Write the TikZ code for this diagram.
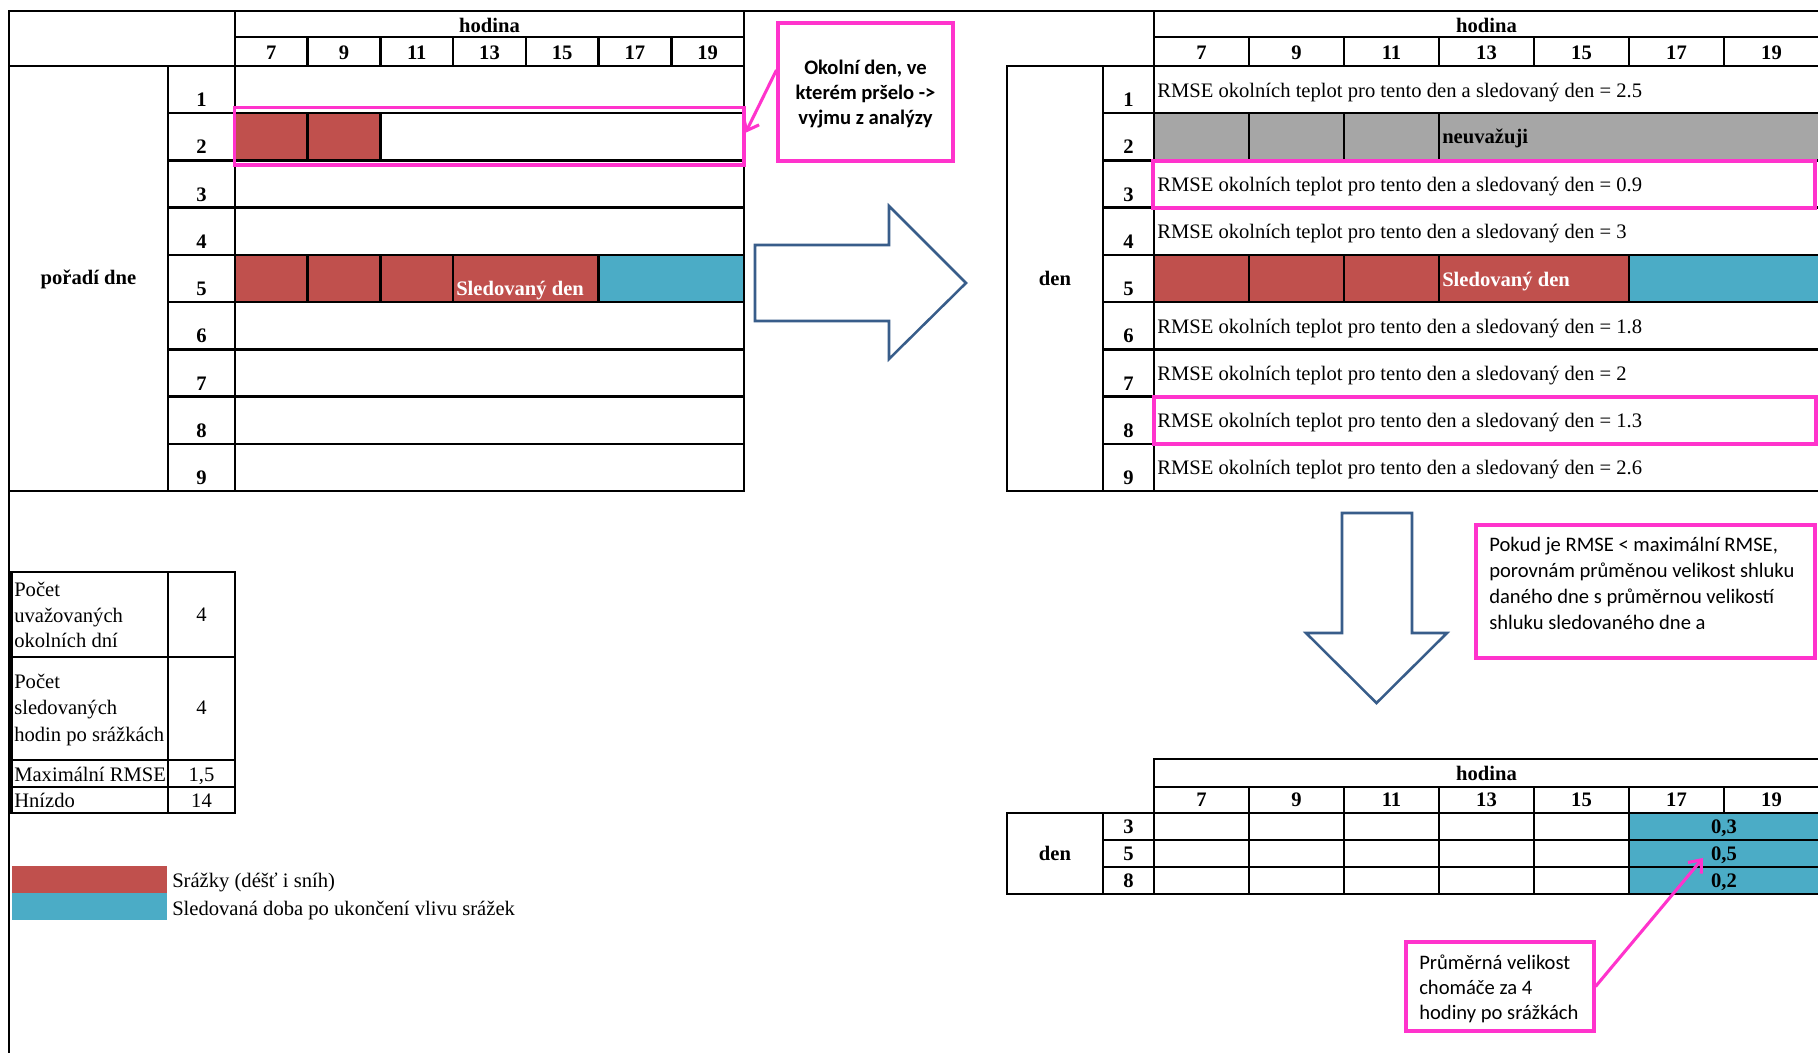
\documentclass[tikz,border=0pt]{standalone}
\usepackage{fontspec}
\setmainfont{Liberation Serif}
\newfontfamily\calfont{Carlito}
\usetikzlibrary{arrows.meta,calc,fit}
\definecolor{cred}{RGB}{192,80,77}
\definecolor{cblue}{RGB}{75,172,198}
\definecolor{cgray}{RGB}{166,166,166}
\definecolor{cmag}{RGB}{255,51,204}
\definecolor{carrow}{RGB}{56,93,138}
\newcommand\fsz{\fontsize{15.45}{18.5}\selectfont}
\begin{document}
\begin{tikzpicture}[x=0.75pt,y=-0.75pt,
  tn/.style={inner sep=0pt,font=\fsz},
  tb/.style={inner sep=0pt,font=\fsz\bfseries},
  cn/.style={inner sep=0pt,font=\calfont\fsz},
  cb/.style={inner sep=0pt,font=\calfont\fsz\bfseries},
  grid/.style={line width=1.875pt,line cap=rect},
  magframe/.style={draw=cmag,line width=2.3pt,inner sep=0pt},
  callout/.style={draw=cmag,line width=2.3pt,fill=white,inner sep=0pt},
  blockarrow/.style={draw=carrow,line width=1.9pt,line join=miter,fill=white},
  magarrow/.style={draw=cmag,line width=2.3pt,-{Straight Barb[length=8pt,width=13pt]}}
]
\useasboundingbox (0,0) rectangle (1818,1053);
\fill[white] (0,0) rectangle (1818,1053);

% ---------- fills ----------
% left table
\fill[cred] (235,113.2) rectangle (380.4,160.4);
\fill[cred] (235,254.9) rectangle (598.6,302.1);
\fill[cblue] (598.6,254.9) rectangle (744,302.1);
% right table
\fill[cgray] (1154,113.2) rectangle (1819,160.4);
\fill[cred] (1154,254.9) rectangle (1629,302.1);
\fill[cblue] (1629,254.9) rectangle (1819,302.1);
% bottom table
\fill[cblue] (1629,813) rectangle (1819,894);
% legend
\fill[cred] (11.5,866) rectangle (167,893);
\fill[cblue] (11.5,893) rectangle (167,920);

% ---------- page border ----------
\draw[grid] (9,1053) -- (9,11) -- (1818,11);

% ---------- left table ----------
\draw[grid] (235,11) -- (235,491);
\draw[grid] (744,11) -- (744,491);
\draw[grid] (235,37) -- (744,37);
\draw[grid] (9,66) -- (744,66);
\foreach \k in {1,...,6} \draw[grid] ({235+\k*72.714},37) -- ({235+\k*72.714},66);
\draw[grid] (168,66) -- (168,491);
\foreach \k in {1,...,8} \draw[grid] (168,{66+\k*47.22}) -- (744,{66+\k*47.22});
\draw[grid] (9,491) -- (744,491);
\foreach \k in {1,2} \draw[grid] ({235+\k*72.714},113.2) -- ({235+\k*72.714},160.4);
\foreach \k in {1,2,3,5} \draw[grid] ({235+\k*72.714},254.9) -- ({235+\k*72.714},302.1);

% ---------- right table ----------
\draw[grid] (1154,11) -- (1154,491);
\draw[grid] (1154,37) -- (1818,37);
\draw[grid] (1007,66) -- (1818,66);
\foreach \k in {1,...,6} \draw[grid] ({1154+\k*95},37) -- ({1154+\k*95},66);
\draw[grid] (1007,66) -- (1007,491);
\draw[grid] (1103,66) -- (1103,491);
\foreach \k in {1,...,8} \draw[grid] (1103,{66+\k*47.22}) -- (1818,{66+\k*47.22});
\draw[grid] (1007,491) -- (1818,491);
\foreach \k in {1,2,3} \draw[grid] ({1154+\k*95},113.2) -- ({1154+\k*95},160.4);
\foreach \k in {1,2,3,5} \draw[grid] ({1154+\k*95},254.9) -- ({1154+\k*95},302.1);

% ---------- bottom table ----------
\draw[grid] (1154,759) -- (1818,759);
\draw[grid] (1154,759) -- (1154,894);
\draw[grid] (1154,787) -- (1818,787);
\draw[grid] (1007,813) -- (1818,813);
\foreach \k in {1,...,6} \draw[grid] ({1154+\k*95},787) -- ({1154+\k*95},813);
\draw[grid] (1103,840) -- (1818,840);
\draw[grid] (1103,867) -- (1818,867);
\draw[grid] (1007,894) -- (1818,894);
\draw[grid] (1007,813) -- (1007,894);
\draw[grid] (1103,813) -- (1103,894);
\foreach \k in {1,...,5} \draw[grid] ({1154+\k*95},813) -- ({1154+\k*95},894);

% ---------- parameter table ----------
\draw[grid] (11.5,572) rectangle (235,813);
\draw[grid] (168,572) -- (168,813);
\foreach \y in {657,760,787} \draw[grid] (11.5,\y) -- (235,\y);

% ---------- texts: left table ----------
\node[tb,anchor=base] (lhod) at (489.5,32.7) {hodina};
\node[tb,anchor=base] (rhod) at (1486.5,32.7) {hodina};
\node[tb,anchor=base] (bhod) at (1486.5,780) {hodina};
\foreach \h [count=\k from 0] in {7,9,11,13,15,17,19} {
  \node[tb,anchor=base] (lh\h) at ({235+(\k+0.5)*72.714},59.3) {\h};
  \node[tb,anchor=base] (rh\h) at ({1154+(\k+0.5)*95},59.3) {\h};
  \node[tb,anchor=base] (bh\h) at ({1154+(\k+0.5)*95},806.7) {\h};
}
\foreach \n in {1,...,9} {
  \node[tb,anchor=base] (ln\n) at (201.5,{66+\n*47.22-6.5}) {\n};
  \node[tb,anchor=base] (rn\n) at (1128.5,{66+\n*47.22-6.5}) {\n};
}
\node[tb,anchor=base] (lpd) at (88.5,284.3) {pořadí dne};
\node[tb,anchor=base west,text=white] (lsd) at (456,295) {Sledovaný den};

% ---------- texts: right table ----------
\node[tb,anchor=base] (rden) at (1055,285) {den};
\foreach \r/\v in {1/2.5,3/0.9,4/3,6/1.8,7/2,8/1.3,9/2.6}
  \node[tn,anchor=base west] (rr\r) at (1157,{66+(\r-1)*47.22+31}) {RMSE okolních teplot pro tento den a sledovaný den = \v};
\node[tb,anchor=base west] (rneu) at (1442,143) {neuvažuji};
\node[tb,anchor=base west,text=white] (rsd) at (1442,286) {Sledovaný den};

% ---------- texts: bottom table ----------
\node[tb,anchor=base] (bden) at (1055,860.7) {den};
\node[tb,anchor=base] (bn3) at (1128.5,833.3) {3};
\node[tb,anchor=base] (bn5) at (1128.5,860.7) {5};
\node[tb,anchor=base] (bn8) at (1128.5,887.3) {8};
\node[tb,anchor=base] (bv3) at (1724,833.3) {0,3};
\node[tb,anchor=base] (bv5) at (1724,860.7) {0,5};
\node[tb,anchor=base] (bv8) at (1724,887.3) {0,2};

% ---------- texts: parameter table ----------
\node[tn,anchor=base west] (p1a) at (14,596) {Počet};
\node[tn,anchor=base west] (p1b) at (14,622) {uvažovaných};
\node[tn,anchor=base west] (p1c) at (14,647.7) {okolních dní};
\node[tn,anchor=base west] (p2a) at (14,688.7) {Počet};
\node[tn,anchor=base west] (p2b) at (14,714.7) {sledovaných};
\node[tn,anchor=base west] (p2c) at (14,741.3) {hodin po srážkách};
\node[tn,anchor=base west] (p3) at (14,781) {Maximální RMSE};
\node[tn,anchor=base west] (p4) at (14,807.7) {Hnízdo};
\node[tn,anchor=base] (pv1) at (201.5,621.7) {4};
\node[tn,anchor=base] (pv2) at (201.5,714.7) {4};
\node[tn,anchor=base] (pv3) at (201.5,781) {1,5};
\node[tn,anchor=base] (pv4) at (201.5,807.7) {14};

% ---------- legend ----------
\node[tn,anchor=base west] (leg1) at (172,887.7) {Srážky (déšť i sníh)};
\node[tn,anchor=base west] (leg2) at (172,915) {Sledovaná doba po ukončení vlivu srážek};

% ---------- magenta frames ----------
\node[magframe,fit={(234.5,107.5) (744,165)}] (fr2) {};
\node[magframe,fit={(1153,161) (1815,208)}] (fr3) {};
\node[magframe,fit={(1154,397) (1816,444)}] (fr8) {};

% ---------- block arrows ----------
\draw[blockarrow] (755,245) -- (889,245) -- (889,206) -- (966,283) -- (889,359) -- (889,321) -- (755,321) -- cycle;
\draw[blockarrow] (1342,513) -- (1412,513) -- (1412,633) -- (1447,633) -- (1376.5,703) -- (1306,633) -- (1342,633) -- cycle;

% ---------- callouts ----------
\node[callout,fit={(778,23) (953,161)}] (c1box) {};
\node[cb,anchor=base] (c1a) at (865.5,74) {Okolní den, ve};
\node[cb,anchor=base] (c1b) at (865.5,99) {kterém pršelo ->};
\node[cb,anchor=base] (c1c) at (865.5,124) {vyjmu z analýzy};

\node[callout,fit={(1476,525) (1815,658)}] (c2box) {};
\node[cn,anchor=base west] (c2a) at (1489,551.7) {Pokud je RMSE < maximální RMSE,};
\node[cn,anchor=base west] (c2b) at (1489,577.7) {porovnám průměnou velikost shluku};
\node[cn,anchor=base west] (c2c) at (1489,603.3) {daného dne s průměrnou velikostí};
\node[cn,anchor=base west] (c2d) at (1489,629.3) {shluku sledovaného dne a};

\node[callout,fit={(1406,942) (1594,1031)}] (c3box) {};
\node[cn,anchor=base west] (c3a) at (1419,969.3) {Průměrná velikost};
\node[cn,anchor=base west] (c3b) at (1419,994.3) {chomáče za 4};
\node[cn,anchor=base west] (c3c) at (1419,1019.3) {hodiny po srážkách};

% ---------- connectors ----------
\draw[magarrow] ([yshift=16.5pt]c1box.west) -- ([yshift=2.6pt]fr2.east);
\coordinate (t3) at (1703,858);
\draw[magarrow] (c3box.east) -- (t3);
\end{tikzpicture}
\end{document}
